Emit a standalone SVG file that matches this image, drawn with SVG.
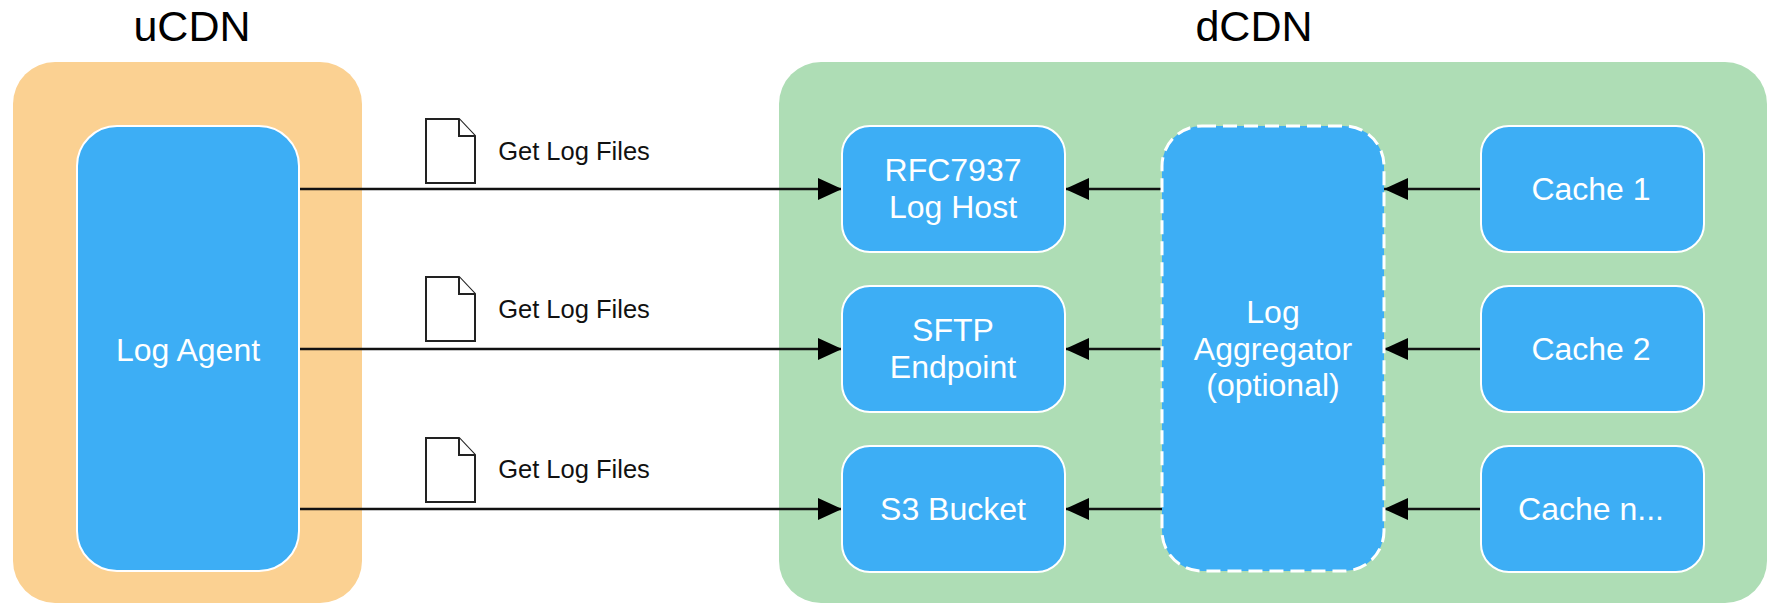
<svg xmlns="http://www.w3.org/2000/svg" width="1775" height="605" viewBox="0 0 1775 605">
<style>
text{font-family:"Liberation Sans",Arial,sans-serif;text-anchor:middle}
.t{font-size:32px;fill:#fff}
.h{font-size:43px;fill:#000}
.l{font-size:25.5px;fill:#111}
.n{fill:#3daef5;stroke:#fff;stroke-width:2}
.c{stroke:#111;stroke-width:2.5;fill:none;marker-end:url(#a)}
.d{fill:#fff;stroke:#222;stroke-width:2;stroke-linejoin:miter}
</style>
<defs><marker id="a" markerUnits="userSpaceOnUse" markerWidth="26" markerHeight="24" refX="24" refY="12" orient="auto"><path d="M0 1L24 12L0 23Z" fill="#000"/></marker></defs>
<rect width="1775" height="605" fill="#fff"/>
<g id="ucdn"><rect x="13" y="62" width="349" height="541" rx="42" fill="#fbd192"/><text class="h" x="192" y="41">uCDN</text></g>
<g id="dcdn"><rect x="779" y="62" width="988" height="541" rx="42" fill="#aeddb5"/><text class="h" x="1254" y="41">dCDN</text></g>
<g id="connectors">
<path class="c" d="M300 189H842"/><path class="c" d="M300 349H842"/><path class="c" d="M300 509H842"/>
<path class="c" d="M1162 189H1065"/><path class="c" d="M1162 349H1065"/><path class="c" d="M1162 509H1065"/>
<path class="c" d="M1481 189H1384"/><path class="c" d="M1481 349H1384"/><path class="c" d="M1481 509H1384"/>
</g>
<g id="log-agent"><rect class="n" x="77" y="126" width="222" height="445" rx="40"/><text class="t" x="188" y="361">Log Agent</text></g>
<g id="log-host"><rect class="n" x="842" y="126" width="223" height="126" rx="28"/><text class="t" x="953" y="181">RFC7937</text><text class="t" x="953" y="218">Log Host</text></g>
<g id="sftp"><rect class="n" x="842" y="286" width="223" height="126" rx="28"/><text class="t" x="953" y="341">SFTP</text><text class="t" x="953" y="378">Endpoint</text></g>
<g id="s3"><rect class="n" x="842" y="446" width="223" height="126" rx="28"/><text class="t" x="953" y="520">S3 Bucket</text></g>
<g id="aggregator"><rect class="n" x="1162" y="126" width="222" height="445" rx="40" stroke-dasharray="14 7" style="stroke-width:3"/><text class="t" x="1273" y="323">Log</text><text class="t" x="1273" y="360">Aggregator</text><text class="t" x="1273" y="396">(optional)</text></g>
<g id="cache1"><rect class="n" x="1481" y="126" width="223" height="126" rx="28"/><text class="t" x="1591" y="200">Cache 1</text></g>
<g id="cache2"><rect class="n" x="1481" y="286" width="223" height="126" rx="28"/><text class="t" x="1591" y="360">Cache 2</text></g>
<g id="cachen"><rect class="n" x="1481" y="446" width="223" height="126" rx="28"/><text class="t" x="1591" y="520">Cache n...</text></g>
<g id="file1"><path class="d" d="M426 119H459L475 136V183H426Z"/><path class="d" d="M459 119V136H475"/><text class="l" x="574" y="160">Get Log Files</text></g>
<g id="file2"><path class="d" d="M426 277H459L475 294V341H426Z"/><path class="d" d="M459 277V294H475"/><text class="l" x="574" y="318">Get Log Files</text></g>
<g id="file3"><path class="d" d="M426 438H459L475 455V502H426Z"/><path class="d" d="M459 438V455H475"/><text class="l" x="574" y="478">Get Log Files</text></g>
</svg>
